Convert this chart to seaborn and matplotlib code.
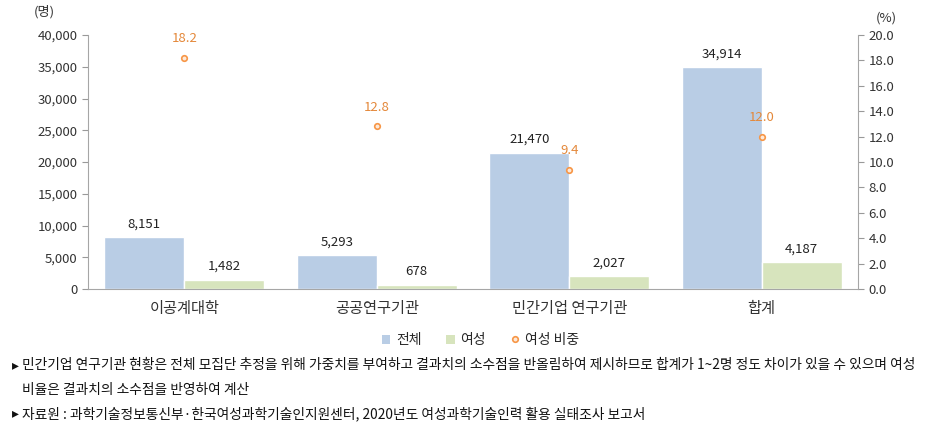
import pandas as pd
import matplotlib.pyplot as plt
import seaborn as sns
from matplotlib.patches import Patch
from matplotlib.lines import Line2D

categories = ['이공계대학', '공공연구기관', '민간기업 연구기관', '합계']
total = [8151, 5293, 21470, 34914]
women = [1482, 678, 2027, 4187]
women_pct = [18.2, 12.8, 9.4, 12.0]

blue = '#B9CDE5'
green = '#D7E4BD'
orange = '#F79646'
orange_text = '#E4883A'

sns.set_style('white')
plt.rcParams['font.family'] = ['Noto Sans CJK KR', 'DejaVu Sans']

df = pd.DataFrame({
    'category': categories * 2,
    'value': total + women,
    'series': ['전체'] * 4 + ['여성'] * 4,
})

fig = plt.figure(figsize=(9.33, 4.4), dpi=100)
ax = fig.add_axes([0.0943, 0.343, 0.8253, 0.5775])

sns.barplot(data=df, x='category', y='value', hue='series', order=categories,
            hue_order=['전체', '여성'], palette=[blue, green], width=0.83,
            saturation=1, ax=ax, legend=False)

for cont in ax.containers:
    ax.bar_label(cont, labels=[f'{v:,.0f}' for v in cont.datavalues],
                 padding=5, fontsize=9.5, color='#222222')

ax.set_ylim(0, 40000)
ax.set_yticks(range(0, 40001, 5000))
ax.set_yticklabels([f'{v:,}' for v in range(0, 40001, 5000)], fontsize=9.5, color='#333333')
ax.set_xlabel('')
ax.set_ylabel('')
ax.tick_params(axis='x', labelsize=11, colors='#333333', length=0, pad=8)
ax.tick_params(axis='y', length=4, color='#999999', direction='out', left=True)
ax.set_xlim(-0.5, 3.5)

ax2 = ax.twinx()
sns.pointplot(x=categories, y=women_pct, order=categories, linestyle='none',
              markers='o', color=orange, ax=ax2, markersize=4,
              markerfacecolor='#FDE9D9', markeredgewidth=1.2)
for i, p in enumerate(women_pct):
    ax2.annotate(f'{p:.1f}', (i, p), xytext=(0, 9), textcoords='offset points',
                 ha='center', va='bottom', fontsize=9.5, color=orange_text)
ax2.set_ylim(0, 20)
ax2.set_yticks([i * 2 for i in range(11)])
ax2.set_yticklabels([f'{i * 2:.1f}' for i in range(11)], fontsize=9.5, color='#333333')
ax2.tick_params(axis='y', length=4, color='#999999', direction='out', right=True)
ax2.set_xlim(-0.5, 3.5)
ax2.set_ylabel('')

for a in (ax, ax2):
    a.spines['top'].set_visible(False)
    for s in ('left', 'right', 'bottom'):
        a.spines[s].set_color('#A6A6A6')
ax.spines['right'].set_visible(False)
ax2.spines['left'].set_visible(False)
ax2.spines['bottom'].set_visible(False)

fig.text(0.048, 0.965, '(명)', fontsize=9.5, color='#333333', ha='center')
fig.text(0.950, 0.950, '(%)', fontsize=9.5, color='#333333', ha='center')

handles = [
    Patch(facecolor=blue, edgecolor='none'),
    Patch(facecolor=green, edgecolor='none'),
    Line2D([], [], linestyle='none', marker='o', markersize=4,
           markerfacecolor='#FDE9D9', markeredgecolor=orange, markeredgewidth=1.2),
]
fig.legend(handles, ['전체', '여성', '여성 비중'], loc='center', bbox_to_anchor=(0.515, 0.227),
           ncol=3, frameon=False, fontsize=10, handlelength=0.6, handleheight=0.6,
           columnspacing=1.8, handletextpad=0.4)

note_kw = dict(fontsize=9.9, color='#111111', ha='left', va='center')
fig.text(0.013, 0.170, '▸', **note_kw)
fig.text(0.024, 0.170, '민간기업 연구기관 현황은 전체 모집단 추정을 위해 가중치를 부여하고 결과치의 소수점을 반올림하여 제시하므로 합계가 1~2명 정도 차이가 있을 수 있으며 여성',
         **note_kw)
fig.text(0.024, 0.113, '비율은 결과치의 소수점을 반영하여 계산', **note_kw)
fig.text(0.013, 0.060, '▸', **note_kw)
fig.text(0.024, 0.060, '자료원 : 과학기술정보통신부·한국여성과학기술인지원센터, 2020년도 여성과학기술인력 활용 실태조사 보고서',
         **note_kw)

fig.savefig('out.png', dpi=100)
